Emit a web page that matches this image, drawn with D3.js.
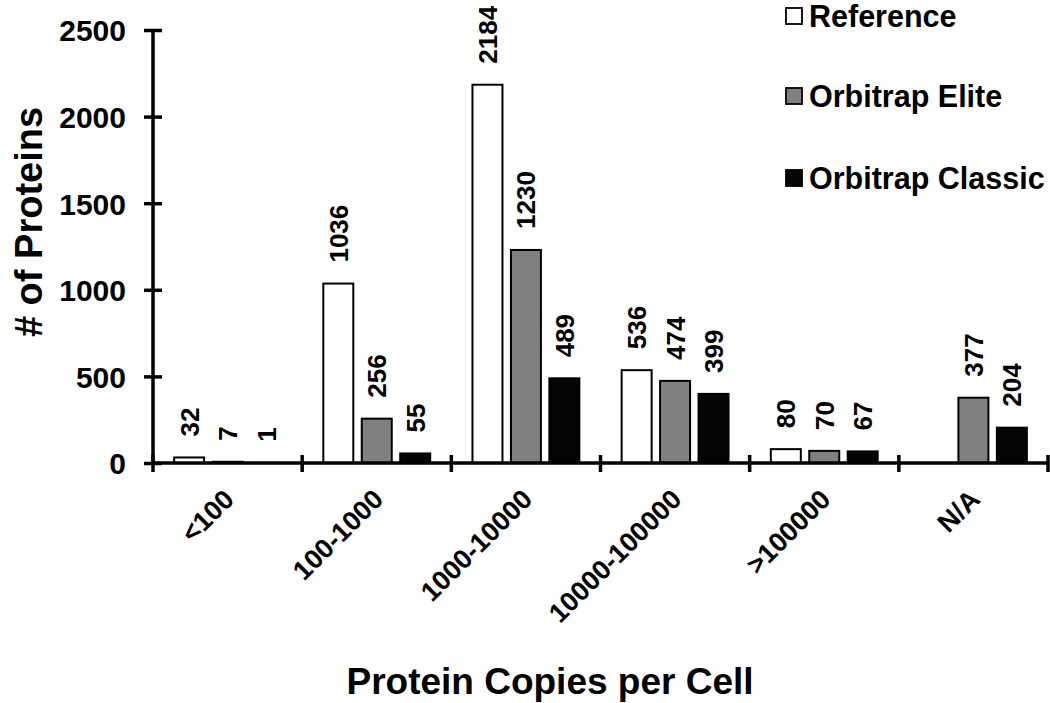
<!DOCTYPE html>
<html><head><meta charset="utf-8">
<script src="https://cdn.jsdelivr.net/npm/d3@7"></script>
<style>
body{margin:0;background:#fff;}
text{font-family:"Liberation Sans",Arial,sans-serif;font-weight:bold;fill:#000;}
</style></head>
<body><svg id="c" width="1050" height="703"></svg>
<script>
const categories = ["<100","100-1000","1000-10000","10000-100000",">100000","N/A"];
const seriesNames = ["Reference","Orbitrap Elite","Orbitrap Classic"];
const reference = [32,1036,2184,536,80,null];
const elite = [7,256,1230,474,70,377];
const classic = [1,55,489,399,67,204];
const yTicks = [0,500,1000,1500,2000,2500];
const colors = ["#ffffff","#808080","#050505"];

const series = [reference, elite, classic];
const svg = d3.select("#c");
const L=153, R=1048, T=30, B=463;
const x = d3.scaleBand().domain(categories).range([L,R]).paddingInner(0).paddingOuter(0);
const xs = d3.scaleBand().domain(seriesNames).range([0,x.bandwidth()]).paddingInner(0.22).paddingOuter(0.55);
const y = d3.scaleLinear().domain([0,2500]).range([B,T]);

// bars
categories.forEach((c,i)=>{
  series.forEach((s,j)=>{
    const v=s[i]; if(v==null) return;
    const bx=x(c)+xs(seriesNames[j]);
    svg.append("rect").attr("x",bx).attr("y",y(v)).attr("width",xs.bandwidth())
      .attr("height",Math.max(B-y(v),0.01)).attr("fill",colors[j]).attr("stroke","#000").attr("stroke-width",2);
    const cx=bx+xs.bandwidth()/2;
    svg.append("text").attr("transform",`translate(${cx+9.5},${y(v)-21}) rotate(-90)`)
      .attr("text-anchor","start").attr("font-size",26).text(v);
  });
});

// y axis
const ya = svg.append("g").attr("transform",`translate(${L},0)`)
  .call(d3.axisLeft(y).tickValues(yTicks).tickFormat(d3.format("d")).tickSize(9).tickPadding(18));
ya.select(".domain").attr("stroke-width",3.5).attr("d",`M0,${T}V${B}`);
ya.selectAll(".tick line").attr("x1",9).attr("x2",-9).attr("stroke-width",3.5);
ya.selectAll(".tick text").attr("font-size",30).attr("dy","0.36em");

// x axis
const bounds = categories.map(c=>x(c)).concat([R]);
svg.append("line").attr("x1",L).attr("x2",R+1).attr("y1",B).attr("y2",B).attr("stroke","#000").attr("stroke-width",3.5);
svg.selectAll(".xt").data(bounds).enter().append("line")
  .attr("x1",d=>d).attr("x2",d=>d).attr("y1",B-8).attr("y2",B+9).attr("stroke","#000").attr("stroke-width",3.5);
categories.forEach(c=>{
  const cx=x(c)+x.bandwidth()/2;
  svg.append("text").attr("transform",`translate(${cx+8},${B+38}) rotate(-45)`)
    .attr("text-anchor","end").attr("font-size",27).text(c);
});

// titles
svg.append("text").attr("x",550).attr("y",694).attr("text-anchor","middle").attr("font-size",37).text("Protein Copies per Cell");
svg.append("text").attr("transform",`translate(42,222) rotate(-90)`).attr("text-anchor","middle").attr("font-size",38).text("# of Proteins");

// legend
const lg = [16,96,178];
seriesNames.forEach((n,j)=>{
  svg.append("rect").attr("x",786).attr("y",lg[j]-8).attr("width",16).attr("height",16)
    .attr("fill",colors[j]).attr("stroke","#000").attr("stroke-width",1.8);
  svg.append("text").attr("x",809).attr("y",lg[j]).attr("dy","0.36em").attr("font-size",30.5).text(n);
});
</script></body></html>
